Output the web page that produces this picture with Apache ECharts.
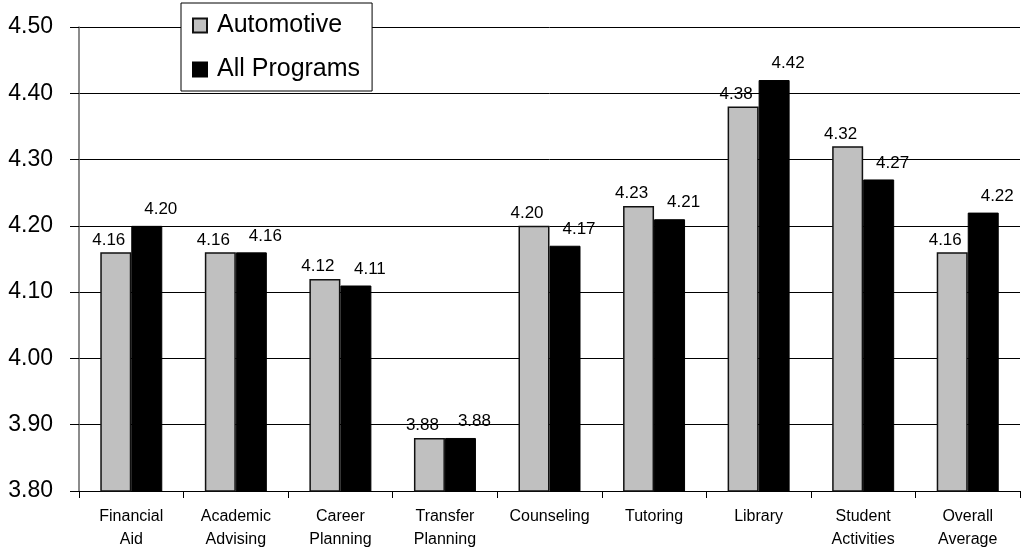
<!DOCTYPE html>
<html>
<head>
<meta charset="utf-8">
<script src="https://cdn.jsdelivr.net/npm/echarts@6/dist/echarts.min.js"></script>
<style>
html,body{margin:0;padding:0;background:#fff;}
#chart{width:1021px;height:551px;}
</style>
</head>
<body>
<div id="chart"></div>
<script>
const categories = ['Financial\nAid','Academic\nAdvising','Career\nPlanning','Transfer\nPlanning','Counseling','Tutoring','Library','Student\nActivities','Overall\nAverage'];
const automotive = [4.16,4.16,4.12,3.88,4.20,4.23,4.38,4.32,4.16];
const allPrograms = [4.20,4.16,4.11,3.88,4.17,4.21,4.42,4.27,4.22];
const seriesNames = ['Automotive','All Programs'];

const FONT = '"Liberation Sans", Arial, sans-serif';
const chart = echarts.init(document.getElementById('chart'), null, {renderer:'canvas'});
function labelCfg(dx, dist){
  return {
    show:true, position:'top', distance:dist, offset:[dx,0], color:'#000', fontSize:17, fontFamily:FONT,
    formatter: p => p.value.toFixed(2)
  };
}
chart.setOption({
  animation:false,
  backgroundColor:'#fff',
  grid:{left:79, right:1, top:27, bottom:58, containLabel:false},
  legend:{
    left:181, top:3, orient:'vertical',
    backgroundColor:'#fff', borderColor:'#000', borderWidth:1,
    padding:[10,12,9,11], itemGap:19, itemWidth:14, itemHeight:14,
    icon:'rect',
    textStyle:{fontSize:25, fontFamily:FONT, color:'#000', padding:[0,0,0,5], lineHeight:24},
    data:seriesNames
  },
  xAxis:{
    type:'category', data:categories,
    axisLine:{lineStyle:{color:'#000', width:1}},
    axisTick:{show:true, length:7, lineStyle:{color:'#000'}},
    axisLabel:{fontSize:16, fontFamily:FONT, color:'#000', margin:14, lineHeight:23, interval:0}
  },
  yAxis:{
    type:'value', min:3.8, max:4.5, interval:0.1,
    axisLine:{show:true, lineStyle:{color:'#666', width:1.5}},
    axisTick:{show:true, length:9, lineStyle:{color:'#000'}},
    splitLine:{show:true, lineStyle:{color:'#000', width:1}},
    axisLabel:{fontSize:23, fontFamily:FONT, color:'#000', margin:26, formatter: v => v.toFixed(2)}
  },
  series:[
    {name:seriesNames[0], type:'bar', data:automotive, barWidth:31, barGap:'0%',
     itemStyle:{color:'#c0c0c0', borderColor:'#111', borderWidth:1.5},
     label:labelCfg(-7, 4)},
    {name:seriesNames[1], type:'bar', data:allPrograms, barWidth:31,
     itemStyle:{color:'#000', borderColor:'#000', borderWidth:1},
     label:labelCfg(14, 8)}
  ]
});
</script>
</body>
</html>
